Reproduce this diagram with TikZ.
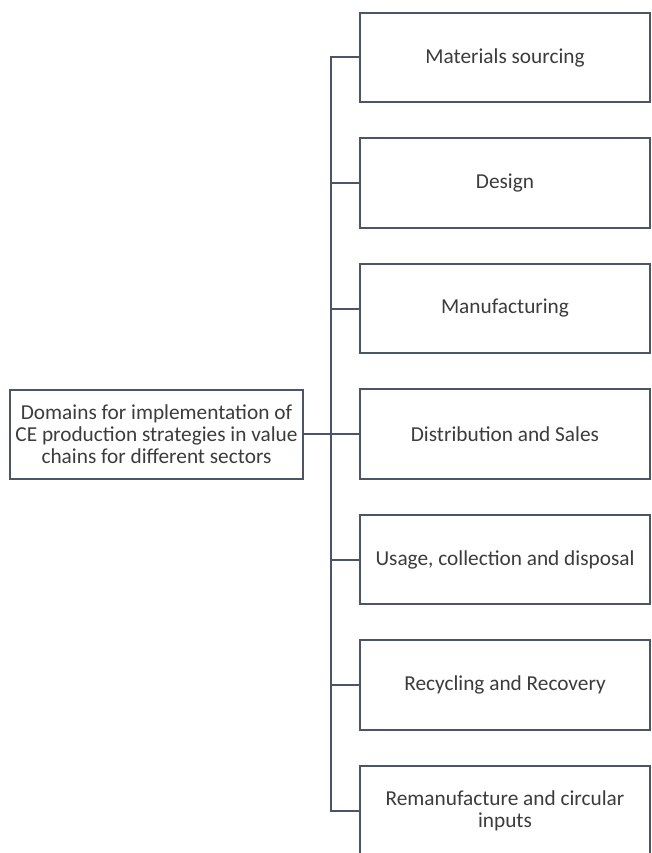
\documentclass[tikz,border=0pt]{standalone}
\usepackage{fontspec}
\setmainfont{Carlito}
\usetikzlibrary{positioning}
\definecolor{framecol}{HTML}{4A5568}
\definecolor{textcol}{HTML}{3C3C3C}
\tikzset{
domainbox/.style={draw=framecol, line width=2pt, fill=white, text=textcol,
  minimum width=290pt, minimum height=89.5pt, align=center,
  font=\fontsize{21.3}{22}\selectfont, inner sep=2pt},
branch/.style={draw=framecol, line width=2pt},
}

\begin{document}
\begin{tikzpicture}[x=1pt,y=-1pt]
\useasboundingbox[fill=white] (0,0) rectangle (652,853);
\node[domainbox] (sourcing) at (505,57.5) {Materials sourcing};
\node[domainbox, below=34pt of sourcing] (design) {Design};
\node[domainbox, below=34pt of design] (manufacturing) {Manufacturing};
\node[domainbox, below=34pt of manufacturing] (distribution) {Distribution and Sales};
\node[domainbox, below=34pt of distribution] (usage) {Usage, collection and disposal};
\node[domainbox, below=34pt of usage] (recycling) {Recycling and Recovery};
\node[domainbox, below=34pt of recycling] (remanufacture) {Remanufacture and circular\\inputs};
\node[domainbox, minimum width=293pt, minimum height=89pt, inner sep=0pt,
  left=55pt of distribution] (domains)
  {Domains for implementation of\\CE production strategies in value\\chains for different sectors};
\draw[branch] (sourcing.west) -- ++(-28pt,0) |- (remanufacture.west);
\draw[branch] (design.west) -- ++(-28pt,0);
\draw[branch] (manufacturing.west) -- ++(-28pt,0);
\draw[branch] (domains.east) -- (distribution.west);
\draw[branch] (usage.west) -- ++(-28pt,0);
\draw[branch] (recycling.west) -- ++(-28pt,0);
\end{tikzpicture}
\end{document}
